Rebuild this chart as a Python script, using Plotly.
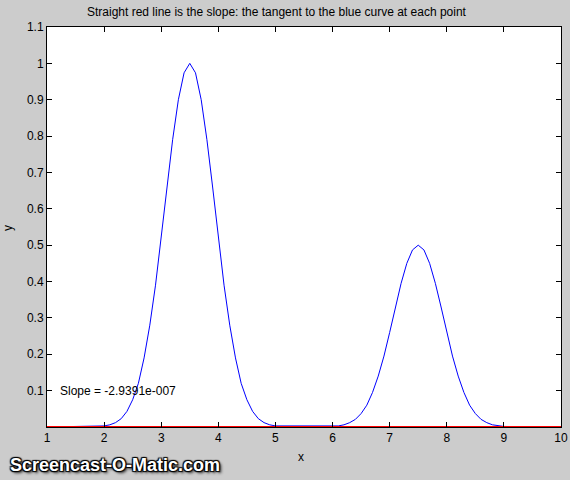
import plotly.graph_objects as go

# Blue curve samples
curve_x = [1.0,
           2.0, 2.1, 2.2, 2.3, 2.4, 2.5, 2.6, 2.7, 2.8, 2.9, 3.0, 3.1, 3.2, 3.3, 3.4, 3.5,
           3.6, 3.7, 3.8, 3.9, 4.0, 4.1, 4.2, 4.3, 4.4, 4.5, 4.6, 4.7, 4.8, 4.9, 5.0,
           6.0, 6.1, 6.2, 6.3, 6.4, 6.5, 6.6, 6.7, 6.8, 6.9, 7.0, 7.1, 7.2, 7.3, 7.4, 7.5,
           7.6, 7.7, 7.8, 7.9, 8.0, 8.1, 8.2, 8.3, 8.4, 8.5, 8.6, 8.7, 8.8, 8.9, 9.0,
           10.0]
curve_y = [0.0,
           0.003, 0.006, 0.012, 0.023, 0.043, 0.075, 0.12, 0.19, 0.28, 0.39, 0.52, 0.66, 0.79, 0.90, 0.974, 1.000,
           0.974, 0.90, 0.79, 0.66, 0.52, 0.39, 0.28, 0.19, 0.12, 0.075, 0.043, 0.023, 0.012, 0.006, 0.003,
           0.0015, 0.003, 0.006, 0.012, 0.021, 0.037, 0.06, 0.095, 0.14, 0.195, 0.26, 0.33, 0.395, 0.45, 0.487, 0.5,
           0.487, 0.45, 0.395, 0.33, 0.26, 0.195, 0.14, 0.095, 0.06, 0.037, 0.021, 0.012, 0.006, 0.003, 0.0015,
           0.0]

# Red tangent line (slope ~ 0)
tangent_x = [1.0, 10.0]
tangent_y = [0.0, 0.0]

x_ticks = [1, 2, 3, 4, 5, 6, 7, 8, 9, 10]
y_ticks = [0.1, 0.2, 0.3, 0.4, 0.5, 0.6, 0.7, 0.8, 0.9, 1.0, 1.1]
y_tick_labels = ["0.1", "0.2", "0.3", "0.4", "0.5", "0.6", "0.7", "0.8", "0.9", "1", "1.1"]

title_text = "Straight red line is the slope: the tangent to the blue curve at each point"
slope_text = "Slope = -2.9391e-007"

FONT = "Liberation Sans, Arial, sans-serif"

fig = go.Figure()
fig.add_trace(go.Scatter(x=curve_x, y=curve_y, mode="lines",
                         line=dict(color="#0000ff", width=1), hoverinfo="skip"))
fig.add_trace(go.Scatter(x=tangent_x, y=tangent_y, mode="lines",
                         line=dict(color="#ff0000", width=2), cliponaxis=False, hoverinfo="skip"))

axis_common = dict(showgrid=False, zeroline=False, showline=True, linecolor="black", linewidth=1,
                   mirror="allticks", ticks="inside", ticklen=5, tickcolor="black",
                   tickfont=dict(family=FONT, size=12, color="black"), automargin=False)

fig.update_layout(
    width=570, height=480,
    margin=dict(l=47, r=9, t=27, b=53),
    paper_bgcolor="#cccccc", plot_bgcolor="white",
    showlegend=False,
    xaxis=dict(range=[1, 10], tickvals=x_ticks, **axis_common),
    yaxis=dict(range=[0, 1.1], tickvals=y_ticks, ticktext=y_tick_labels, **axis_common),
    font=dict(family=FONT, size=12, color="black"),
)

fig.add_annotation(text=title_text, xref="paper", yref="paper", x=0.4475, y=1.0375,
                   xanchor="center", yanchor="middle", showarrow=False,
                   font=dict(family=FONT, size=12, color="black"))
fig.add_annotation(text="x", xref="paper", yref="paper", x=0.494, y=-0.075,
                   xanchor="center", yanchor="middle", showarrow=False,
                   font=dict(family=FONT, size=12, color="black"))
fig.add_annotation(text="y", xref="paper", yref="paper", x=-0.0759, y=0.4975,
                   xanchor="center", yanchor="middle", showarrow=False, textangle=-90,
                   font=dict(family=FONT, size=12, color="black"))
fig.add_annotation(text=slope_text, xref="x", yref="y", x=1.2, y=0.1,
                   xanchor="left", yanchor="middle", showarrow=False,
                   font=dict(family=FONT, size=12, color="black"))
fig.add_annotation(text="<b>Screencast-O-Matic.com</b>", xref="paper", yref="paper",
                   x=-0.0759, y=-0.095, xanchor="left", yanchor="middle", showarrow=False,
                   font=dict(family=FONT, size=18, color="white",
                             shadow="1px 1px 1px #000, -1px -1px 1px #000, 1px -1px 1px #000, -1px 1px 1px #000, 2px 2px 3px #222"))

fig.write_html("out.html", config={"displayModeBar": False},
               post_script="document.body.style.margin='0px';document.body.style.background='#cccccc';")
